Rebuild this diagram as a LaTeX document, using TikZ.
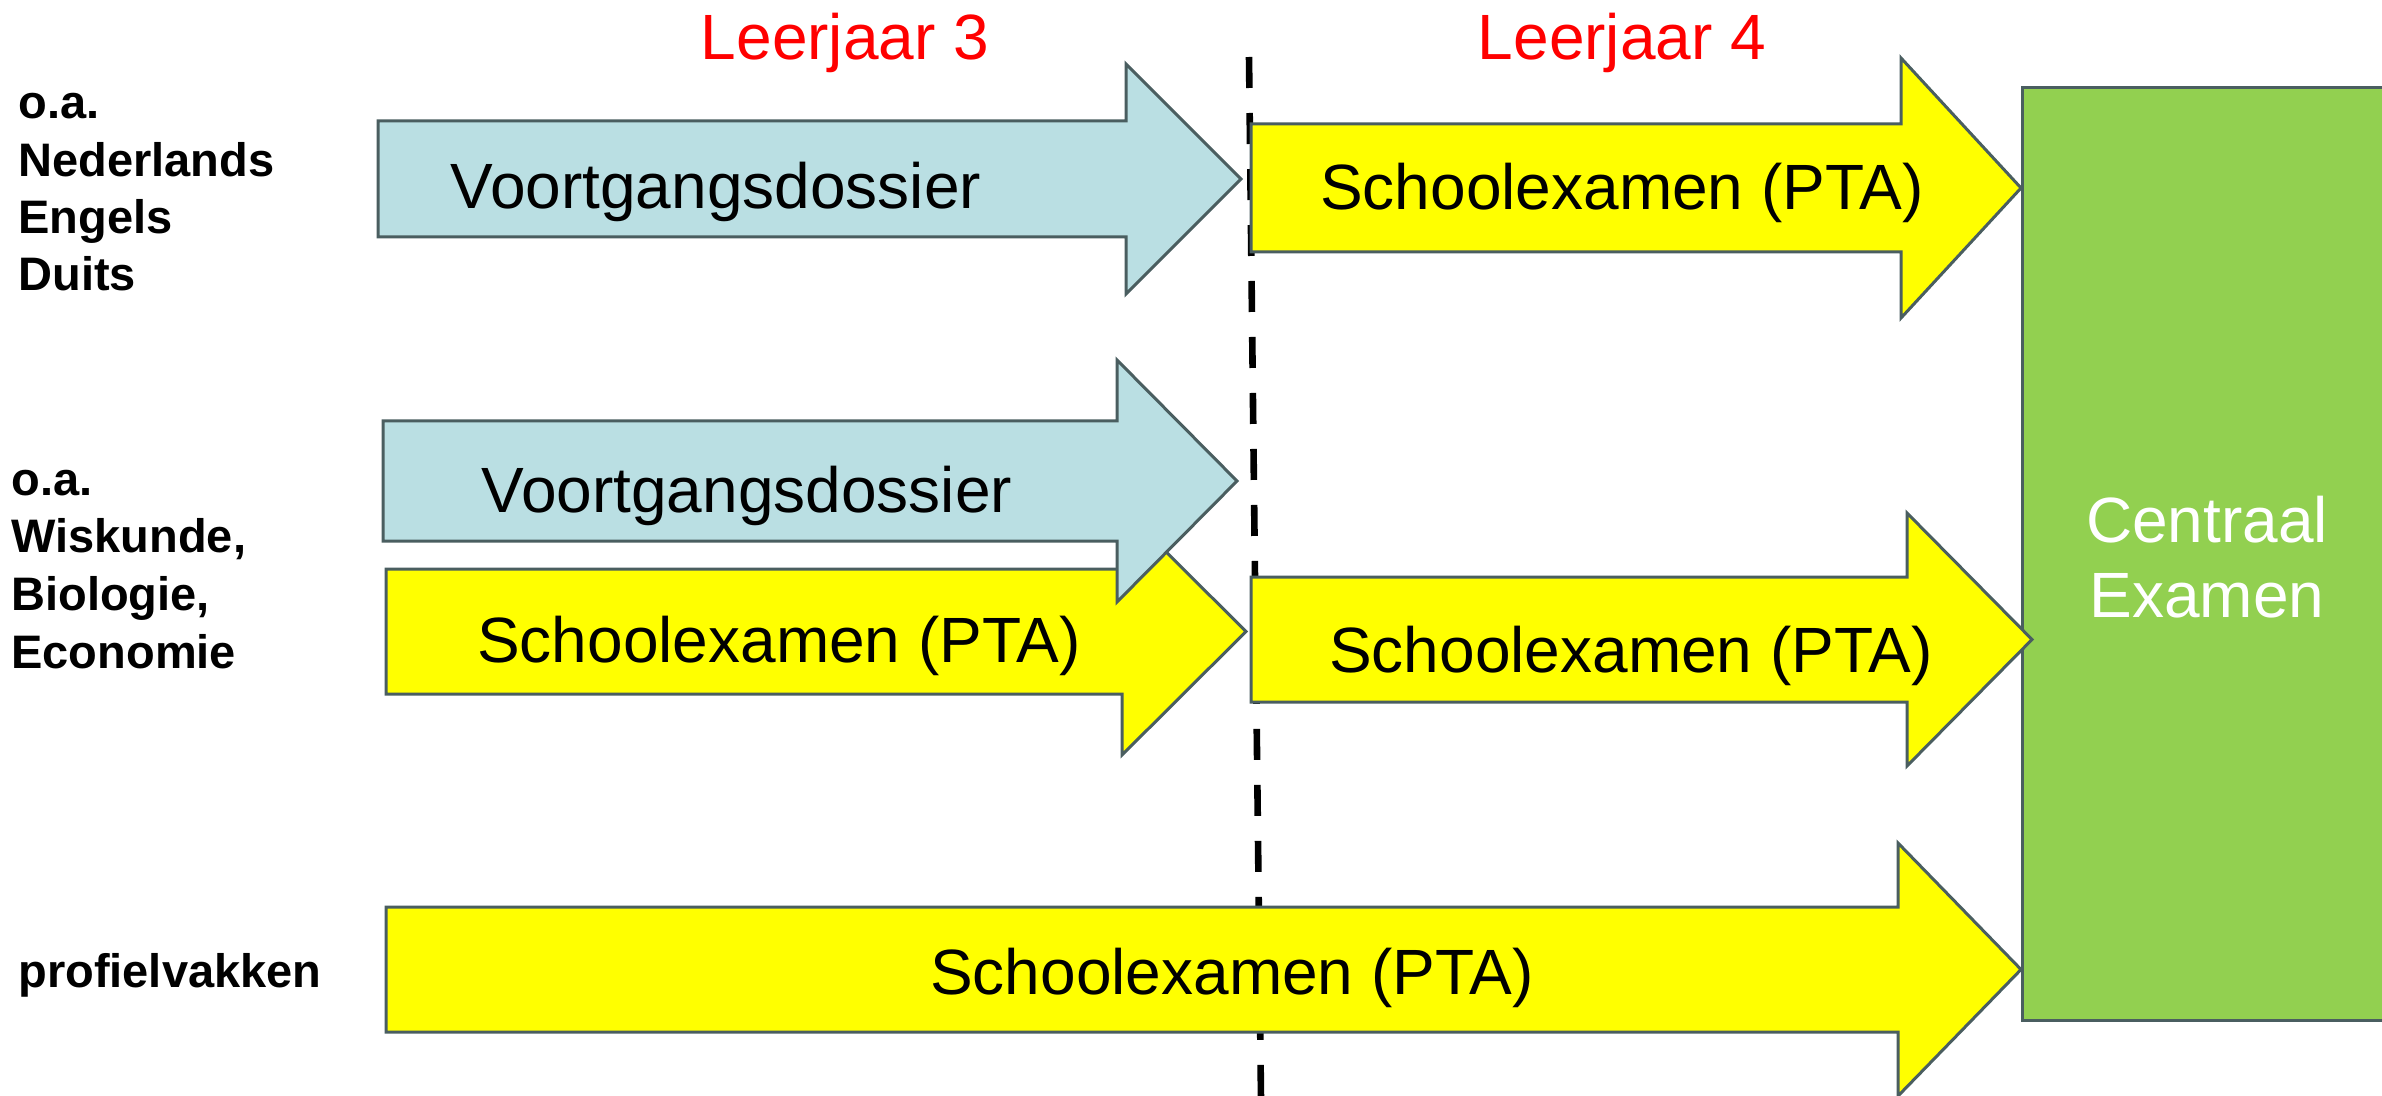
\documentclass[tikz,border=0pt]{standalone}
\usepackage{fontspec}
\setmainfont{Liberation Sans}
\definecolor{edgec}{HTML}{4A5E60}
\definecolor{lblue}{HTML}{BADFE3}
\definecolor{yel}{HTML}{FFFF00}
\definecolor{grn}{HTML}{92D050}
\definecolor{redt}{HTML}{FF0000}
\tikzset{
  arrowshape/.style={draw=edgec, line width=1.5pt, line join=miter},
  bluearrow/.style={arrowshape, fill=lblue},
  yelarrow/.style={arrowshape, fill=yel},
  arrowtext/.style={font=\fontsize{32}{38}\selectfont, anchor=base, inner sep=0pt},
  yeartext/.style={arrowtext, text=redt},
  sidelabel/.style={font=\bfseries\fontsize{23.5}{28}\selectfont, anchor=base west, inner sep=0pt},
  cetext/.style={arrowtext, text=white},
  divider/.style={line width=3.3pt, dash pattern=on 15.5pt off 12.5pt, black}
}
\begin{document}
\begin{tikzpicture}[x=0.5pt,y=-0.5pt]
\path[use as bounding box] (0,0) rectangle (2382,1096);

% divider line (behind)
\coordinate (dtop) at (1249,57);
\coordinate (dbot) at (1261,1100);
\draw[divider] (dtop) -- (dbot);

% Centraal Examen block
\begin{scope}
\clip (0,0) rectangle (2382,1096);
\draw[fill=grn, draw=edgec, line width=1.5pt] (2022,88) rectangle (2400,1020);
\end{scope}
\node[cetext] (ce1) at (2207,542) {Centraal};
\node[cetext] (ce2) at (2207,617) {Examen};

% top row
\draw[bluearrow] (378,121) -- (1126,121) -- (1126,64) -- (1241,179) -- (1126,294) -- (1126,237) -- (378,237) -- cycle;
\node[arrowtext] (vd1) at (716,209) {Voortgangsdossier};
\draw[yelarrow] (1251,124) -- (1901,124) -- (1901,58) -- (2021,188) -- (1901,318) -- (1901,252) -- (1251,252) -- cycle;
\node[arrowtext] (se1) at (1622,210) {Schoolexamen (PTA)};

% middle row
\draw[yelarrow] (386,569) -- (1122,569) -- (1122,508) -- (1246,631.5) -- (1122,755) -- (1122,694) -- (386,694) -- cycle;
\node[arrowtext] (se2) at (779,662) {Schoolexamen (PTA)};
\draw[bluearrow] (383,421) -- (1117,421) -- (1117,360) -- (1237,481) -- (1117,602) -- (1117,541) -- (383,541) -- cycle;
\node[arrowtext] (vd2) at (747,512) {Voortgangsdossier};
\draw[yelarrow] (1251,577) -- (1907,577) -- (1907,513) -- (2032,639.5) -- (1907,766) -- (1907,702) -- (1251,702) -- cycle;
\node[arrowtext] (se3) at (1631,672) {Schoolexamen (PTA)};

% bottom row
\draw[yelarrow] (386,907) -- (1898,907) -- (1898,843) -- (2021,969.5) -- (1898,1096) -- (1898,1032) -- (386,1032) -- cycle;
\node[arrowtext] (se4) at (1232,994) {Schoolexamen (PTA)};

% year headings
\node[yeartext] (lj3) at (845,60) {Leerjaar 3};
\node[yeartext] (lj4) at (1622,60) {Leerjaar 4};

% side labels
\node[sidelabel] (a1) at (18,119) {o.a.};
\node[sidelabel] (a2) at (18,177) {Nederlands};
\node[sidelabel] (a3) at (18,234) {Engels};
\node[sidelabel] (a4) at (18,291) {Duits};
\node[sidelabel] (b1) at (11,495) {o.a.};
\node[sidelabel] (b2) at (11,552) {Wiskunde,};
\node[sidelabel] (b3) at (11,610) {Biologie,};
\node[sidelabel] (b4) at (11,668) {Economie};
\node[sidelabel] (c1) at (18,987) {profielvakken};
\end{tikzpicture}
\end{document}
